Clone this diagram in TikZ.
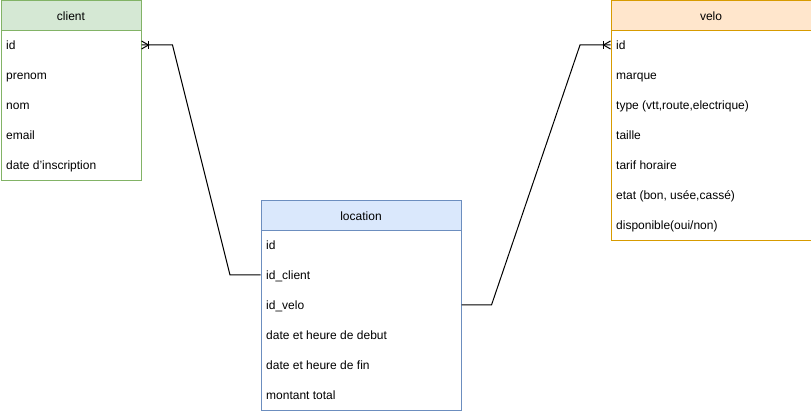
\documentclass[tikz,border=0pt]{standalone}
\usepackage{fontspec}
\setmainfont{Liberation Sans}
\definecolor{cgfill}{HTML}{D5E8D4}\definecolor{cgline}{HTML}{82B366}
\definecolor{vofill}{HTML}{FFE6CC}\definecolor{voline}{HTML}{D79B00}
\definecolor{lbfill}{HTML}{DAE8FC}\definecolor{lbline}{HTML}{6C8EBF}
\tikzset{
  tbl/.style={draw, line width=1pt, fill=white, anchor=north west, inner sep=0pt},
  hdr/.style={draw, line width=1pt, anchor=north west, inner sep=0pt, minimum height=30pt, font=\fontsize{12}{14}\selectfont},
  row/.style={anchor=base west, inner sep=0pt, font=\fontsize{12}{14}\selectfont},
  rel/.style={line width=1pt, black},
}
\begin{document}
\begin{tikzpicture}[x=1pt,y=-1pt]
\useasboundingbox (0,0) rectangle (811,411);
% client
\node[tbl, draw=cgline, minimum width=140pt, minimum height=180pt] (client) at (0.5,0.5) {};
\node[hdr, draw=cgline, fill=cgfill, minimum width=140pt] (clienth) at (0.5,0.5) {client};
\node[row] (cid) at (6,49.3) {id};
\node[row] (cprenom) at (6,79.3) {prenom};
\node[row] (cnom) at (6,109.3) {nom};
\node[row] (cemail) at (6,139.3) {email};
\node[row] (cdate) at (6,169.3) {date d'inscription};
% velo
\node[tbl, draw=voline, minimum width=200pt, minimum height=240pt] (velo) at (610.5,0.5) {};
\node[hdr, draw=voline, fill=vofill, minimum width=200pt] (veloh) at (610.5,0.5) {velo};
\node[row] (vid) at (616,49.3) {id};
\node[row] (vmarque) at (616,79.3) {marque};
\node[row] (vtype) at (616,109.3) {type (vtt,route,electrique)};
\node[row] (vtaille) at (616,139.3) {taille};
\node[row] (vtarif) at (616,169.3) {tarif horaire};
\node[row] (vetat) at (616,199.3) {etat (bon, usée,cassé)};
\node[row] (vdispo) at (616,229.3) {disponible(oui/non)};
% location
\node[tbl, draw=lbline, minimum width=200pt, minimum height=209pt] (loc) at (260.5,200.5) {};
\node[hdr, draw=lbline, fill=lbfill, minimum width=200pt] (loch) at (260.5,200.5) {location};
\node[row] (lid) at (266,249.3) {id};
\node[row] (lclient) at (266,279.3) {id\_client};
\node[row] (lvelo) at (266,309.3) {id\_velo};
\node[row] (ldebut) at (266,339.3) {date et heure de debut};
\node[row] (lfin) at (266,369.3) {date et heure de fin};
\node[row] (lmontant) at (266,399.3) {montant total};
% connectors
\coordinate (ca) at (client.east |- 0,45);
\coordinate (la) at (loc.west |- 0,275);
\coordinate (lb) at (loc.east |- 0,305);
\coordinate (va) at (velo.west |- 0,45);
\draw[rel] (ca) -- ++(31,0) -- (230,275) -- (la);
\draw[rel] (lb) -- ++(30,0) -- (580,45) -- (va);
% crow's feet
\draw[rel] ([xshift=7pt,yshift=-4pt]ca) -- ([xshift=7pt,yshift=4pt]ca);
\draw[rel] ([yshift=-4pt]ca) -- ([xshift=7pt]ca) -- ([yshift=4pt]ca);
\draw[rel] ([xshift=-7pt,yshift=-4pt]va) -- ([xshift=-7pt,yshift=4pt]va);
\draw[rel] ([yshift=-4pt]va) -- ([xshift=-7pt]va) -- ([yshift=4pt]va);
\end{tikzpicture}
\end{document}
